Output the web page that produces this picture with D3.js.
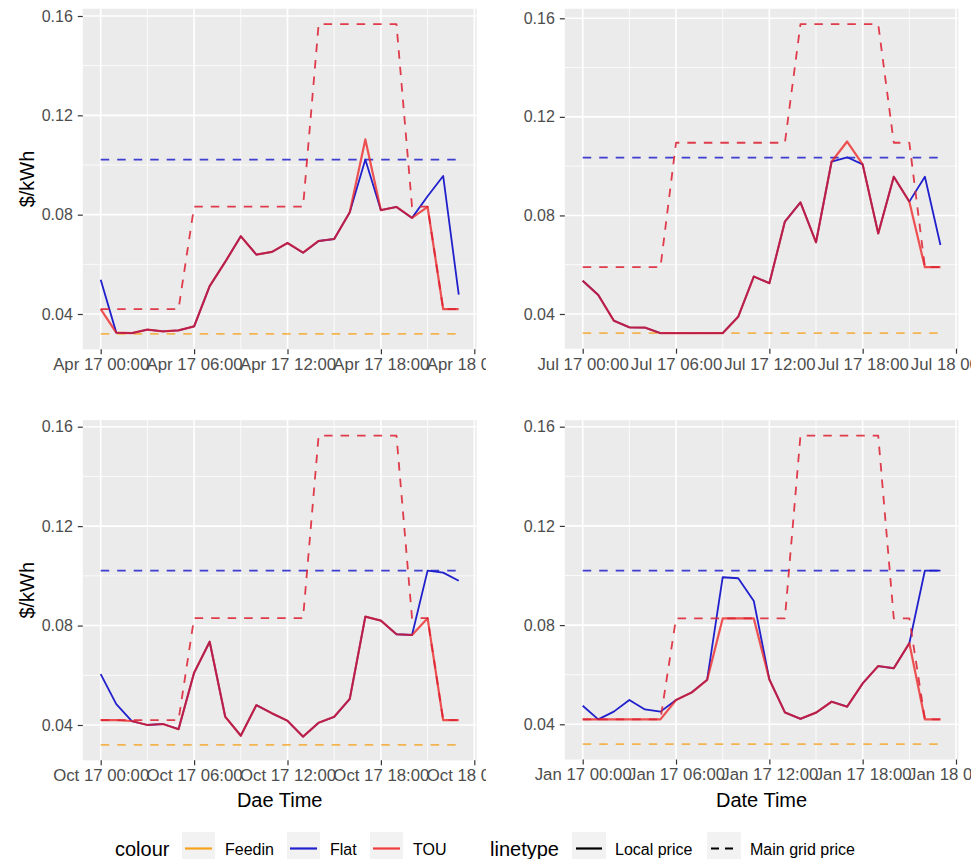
<!DOCTYPE html>
<html><head><meta charset="utf-8">
<script src="https://cdn.jsdelivr.net/npm/d3@7/dist/d3.min.js"></script>
<style>
body{margin:0;background:#fff;}
svg{display:block;}
text{font-family:"Liberation Sans",Arial,Helvetica,sans-serif;}
</style>
</head><body>
<svg id="chart" width="975" height="859"></svg>
<script>
// ---------------- data ----------------
const hours = [0,1,2,3,4,5,6,7,8,9,10,11,12,13,14,15,16,17,18,19,20,21,22,23];
const monthNames = ["Apr","Jul","Oct","Jan"];
const monthNumbers = [3,6,9,0];           // JS month index
const yTickValues = [0.04,0.08,0.12,0.16];
const yMinorValues = [0.06,0.10,0.14];
const xTitles = ["","","Dae Time","Date Time"];
const yTitleText = "$/kWh";
const seriesNames = ["Feedin","Flat","TOU"];
const linetypeNames = ["Local price","Main grid price"];

// April
const aprTouLocal  = [0.042,0.0325,0.0323,0.0337,0.033,0.0334,0.035,0.0512,0.061,0.0713,0.0639,0.065,0.0686,0.0647,0.0694,0.0702,0.081,0.1103,0.0818,0.0831,0.0787,0.0831,0.042,0.042];
const aprFlatLocal = [0.0538,0.0325,0.0323,0.0337,0.033,0.0334,0.035,0.0512,0.061,0.0713,0.0639,0.065,0.0686,0.0647,0.0694,0.0702,0.081,0.1022,0.0818,0.0831,0.0787,0.0874,0.0956,0.0478];
const aprTouGrid   = [0.042,0.042,0.042,0.042,0.042,0.042,0.0832,0.0832,0.0832,0.0832,0.0832,0.0832,0.0832,0.0832,0.1567,0.1567,0.1567,0.1567,0.1567,0.1567,0.0832,0.0832,0.042,0.042];
const aprFlatGrid  = 0.1022;
const aprFeedin    = 0.032;

// July
const julTouLocal  = [0.0535,0.0477,0.0373,0.0346,0.0345,0.0322,0.0322,0.0322,0.0322,0.0322,0.0389,0.0552,0.0525,0.0775,0.0853,0.0691,0.1018,0.110,0.1007,0.0727,0.0957,0.0856,0.059,0.059];
const julFlatLocal = [0.0535,0.0477,0.0373,0.0346,0.0345,0.0322,0.0322,0.0322,0.0322,0.0322,0.0389,0.0552,0.0525,0.0775,0.0853,0.0691,0.1018,0.1036,0.1007,0.0727,0.0957,0.0856,0.0957,0.068];
const julTouGrid   = [0.059,0.059,0.059,0.059,0.059,0.059,0.1095,0.1095,0.1095,0.1095,0.1095,0.1095,0.1095,0.1095,0.1576,0.1576,0.1576,0.1576,0.1576,0.1576,0.1095,0.1095,0.059,0.059];
const julFlatGrid  = 0.1035;
const julFeedin    = 0.0322;

// October
const octTouLocal  = [0.042,0.042,0.0416,0.040,0.0404,0.0383,0.061,0.0735,0.0433,0.0357,0.048,0.0447,0.0417,0.0353,0.0409,0.0433,0.0505,0.0836,0.082,0.0765,0.0762,0.0829,0.042,0.042];
const octFlatLocal = [0.0605,0.0484,0.0416,0.040,0.0404,0.0383,0.061,0.0735,0.0433,0.0357,0.048,0.0447,0.0417,0.0353,0.0409,0.0433,0.0505,0.0836,0.082,0.0765,0.0762,0.1021,0.1013,0.098];
const octTouGrid   = [0.042,0.042,0.042,0.042,0.042,0.042,0.083,0.083,0.083,0.083,0.083,0.083,0.083,0.083,0.1564,0.1564,0.1564,0.1564,0.1564,0.1564,0.083,0.083,0.042,0.042];
const octFlatGrid  = 0.1021;
const octFeedin    = 0.032;

// January
const janTouLocal  = [0.042,0.042,0.042,0.042,0.042,0.042,0.0498,0.0528,0.0579,0.0827,0.0827,0.0827,0.0581,0.0448,0.0422,0.0447,0.0491,0.0471,0.0565,0.0635,0.0626,0.0727,0.042,0.042];
const janFlatLocal = [0.0475,0.042,0.0451,0.0498,0.046,0.0451,0.0498,0.0528,0.0579,0.0993,0.0989,0.0897,0.0581,0.0448,0.0422,0.0447,0.0491,0.0471,0.0565,0.0635,0.0626,0.0727,0.102,0.102];
const janTouGrid   = [0.042,0.042,0.042,0.042,0.042,0.042,0.0827,0.0827,0.0827,0.0827,0.0827,0.0827,0.0827,0.0827,0.1564,0.1564,0.1564,0.1564,0.1564,0.1564,0.0827,0.0827,0.042,0.042];
const janFlatGrid  = 0.102;
const janFeedin    = 0.032;

// ---------------- layout ----------------
const layouts = [
  {y04:314,   y16:16,    x0:100.7, x24:474.3, clipX:[0,486],   yTitle:true},
  {y04:314,   y16:18.3,  x0:582.7, x24:956,   clipX:[489,971], yTitle:false},
  {y04:725,   y16:426.7, x0:100.7, x24:474.3, clipX:[0,486],   yTitle:true},
  {y04:724.3, y16:426.7, x0:582.7, x24:956,   clipX:[489,971], yTitle:false}
];
const panelsData = [
  {touLocal:aprTouLocal, flatLocal:aprFlatLocal, touGrid:aprTouGrid, flatGrid:aprFlatGrid, feedin:aprFeedin},
  {touLocal:julTouLocal, flatLocal:julFlatLocal, touGrid:julTouGrid, flatGrid:julFlatGrid, feedin:julFeedin},
  {touLocal:octTouLocal, flatLocal:octFlatLocal, touGrid:octTouGrid, flatGrid:octFlatGrid, feedin:octFeedin},
  {touLocal:janTouLocal, flatLocal:janFlatLocal, touGrid:janTouGrid, flatGrid:janFlatGrid, feedin:janFeedin}
];

const colors = {Feedin:"#f5a21c", Flat:"#2020cc", TOU:"#ee1c1c"};
const DASH = "8.5,8";
const fmt = d3.timeFormat("%b %d %H:%M");
const svg = d3.select("#chart");
const defs = svg.append("defs");

panelsData.forEach((pd, i) => {
  const L = layouts[i];
  const year = 2019;
  const m = monthNumbers[i];
  const t0 = new Date(year, m, 17, 0);
  const t24 = new Date(year, m, 18, 0);
  const dateOf = h => new Date(year, m, 17, h);

  const x = d3.scaleTime().domain([t0, t24]).range([L.x0, L.x24]);
  const y = d3.scaleLinear().domain([0.04, 0.16]).range([L.y04, L.y16]);

  // ggplot-like 5% expansion
  const allVals = [].concat(pd.touLocal, pd.flatLocal, pd.touGrid, [pd.flatGrid, pd.feedin]);
  const [vmin, vmax] = d3.extent(allVals);
  const vpad = (vmax - vmin) * 0.05;
  const hpad = (hours[hours.length-1] - hours[0]) * 0.05 * 3600e3;
  const tMin = dateOf(hours[0]), tMax = dateOf(hours[hours.length-1]);
  const px0 = x(new Date(+tMin - hpad)), px1 = x(new Date(+tMax + hpad));
  const py0 = y(vmax + vpad), py1 = y(vmin - vpad);

  const cid = "clip" + i;
  defs.append("clipPath").attr("id", cid).append("rect")
    .attr("x", L.clipX[0]).attr("y", 0).attr("width", L.clipX[1]-L.clipX[0]).attr("height", 859);

  const g = svg.append("g").attr("clip-path", `url(#${cid})`);

  // panel background
  g.append("rect").attr("x", px0).attr("y", py0).attr("width", px1-px0).attr("height", py1-py0).attr("fill", "#EBEBEB");

  // minor grid
  const xMinor = [3,9,15,21].map(dateOf);
  g.selectAll(null).data(xMinor).join("line")
    .attr("x1", d=>x(d)).attr("x2", d=>x(d)).attr("y1", py0).attr("y2", py1)
    .attr("stroke", "#fff").attr("stroke-width", 0.8);
  g.selectAll(null).data(yMinorValues.filter(v=>v>vmin-vpad && v<vmax+vpad)).join("line")
    .attr("x1", px0).attr("x2", px1).attr("y1", d=>y(d)).attr("y2", d=>y(d))
    .attr("stroke", "#fff").attr("stroke-width", 0.8);
  // major grid
  const xMajor = x.ticks(d3.timeHour.every(6));
  g.selectAll(null).data(xMajor).join("line")
    .attr("x1", d=>x(d)).attr("x2", d=>x(d)).attr("y1", py0).attr("y2", py1)
    .attr("stroke", "#fff").attr("stroke-width", 1.6);
  g.selectAll(null).data(yTickValues).join("line")
    .attr("x1", px0).attr("x2", px1).attr("y1", d=>y(d)).attr("y2", d=>y(d))
    .attr("stroke", "#fff").attr("stroke-width", 1.6);

  // axes
  const xAxis = d3.axisBottom(x).tickValues(xMajor).tickFormat(fmt).tickSize(5).tickPadding(4);
  const xa = g.append("g").attr("transform", `translate(0,${py1})`).call(xAxis);
  xa.select(".domain").remove();
  xa.selectAll(".tick line").attr("stroke", "#333").attr("stroke-width", 1.2);
  xa.selectAll(".tick text").attr("fill", "#4d4d4d").style("font-size", "16.8px")
    .style("font-family", '"Liberation Sans",Arial,sans-serif');

  const yAxis = d3.axisLeft(y).tickValues(yTickValues).tickFormat(d3.format(".2f")).tickSize(5).tickPadding(5);
  const ya = g.append("g").attr("transform", `translate(${px0},0)`).call(yAxis);
  ya.select(".domain").remove();
  ya.selectAll(".tick line").attr("stroke", "#333").attr("stroke-width", 1.2);
  ya.selectAll(".tick text").attr("fill", "#4d4d4d").style("font-size", "16px")
    .style("font-family", '"Liberation Sans",Arial,sans-serif');

  // titles
  if (L.yTitle) {
    g.append("text").attr("transform", `translate(27,${(py0+py1)/2}) rotate(-90)`)
      .attr("text-anchor", "middle").attr("dy", "0.35em").style("font-size", "20px").attr("fill", "#000")
      .text(yTitleText);
  }
  if (xTitles[i]) {
    g.append("text").attr("x", (px0+px1)/2).attr("y", 807)
      .attr("text-anchor", "middle").style("font-size", "20px").attr("fill", "#000").text(xTitles[i]);
  }

  // lines
  const line = d3.line().x(d=>x(dateOf(d[0]))).y(d=>y(d[1]));
  const pairs = arr => hours.map((h,k)=>[h, arr[k]]);
  const constPairs = v => [[hours[0], v], [hours[hours.length-1], v]];
  const lg = g.append("g").attr("fill", "none").attr("stroke-linejoin", "round");

  lg.append("path").attr("d", line(constPairs(pd.feedin))).attr("stroke", colors.Feedin)
    .attr("stroke-width", 1.8).attr("stroke-dasharray", DASH).attr("opacity", 0.75);
  lg.append("path").attr("d", line(pairs(pd.flatLocal))).attr("stroke", colors.Flat)
    .attr("stroke-width", 1.8);
  lg.append("path").attr("d", line(constPairs(pd.flatGrid))).attr("stroke", colors.Flat)
    .attr("stroke-width", 1.8).attr("stroke-dasharray", DASH).attr("opacity", 0.85);
  lg.append("path").attr("d", line(pairs(pd.touLocal))).attr("stroke", colors.TOU)
    .attr("stroke-width", 2.2).attr("opacity", 0.75);
  lg.append("path").attr("d", line(pairs(pd.touGrid))).attr("stroke", "#dd2233")
    .attr("stroke-width", 1.8).attr("stroke-dasharray", DASH).attr("opacity", 0.88);
});

// ---------------- legend ----------------
const leg = svg.append("g");
const keyTop = 832, keyH = 33, keyW = 33, lineY = 848.5;
leg.append("text").attr("x", 115).attr("y", 856).style("font-size", "20px").attr("fill", "#000").text("colour");
const colourKeyX = [182, 287, 370];
seriesNames.forEach((s, k) => {
  const kx = colourKeyX[k];
  leg.append("rect").attr("x", kx).attr("y", keyTop).attr("width", keyW).attr("height", keyH).attr("fill", "#F2F2F2");
  leg.append("line").attr("x1", kx+3).attr("x2", kx+keyW-3).attr("y1", lineY).attr("y2", lineY)
    .attr("stroke", colors[s]).attr("stroke-width", 2.2).attr("opacity", s==="TOU"?0.85:1);
  leg.append("text").attr("x", kx+keyW+10).attr("y", 855).style("font-size", "16px").attr("fill", "#000").text(s);
});
leg.append("text").attr("x", 490).attr("y", 856).style("font-size", "20px").attr("fill", "#000").text("linetype");
const ltKeyX = [572, 707];
linetypeNames.forEach((s, k) => {
  const kx = ltKeyX[k];
  leg.append("rect").attr("x", kx).attr("y", keyTop).attr("width", keyW+1).attr("height", keyH).attr("fill", "#F2F2F2");
  leg.append("line").attr("x1", kx+4).attr("x2", kx+keyW-3).attr("y1", lineY).attr("y2", lineY)
    .attr("stroke", "#000").attr("stroke-width", 2.2).attr("stroke-dasharray", k===1 ? "8,6" : null);
  leg.append("text").attr("x", kx+keyW+10).attr("y", 855).style("font-size", "16px").attr("fill", "#000").text(s);
});
</script>
</body></html>
